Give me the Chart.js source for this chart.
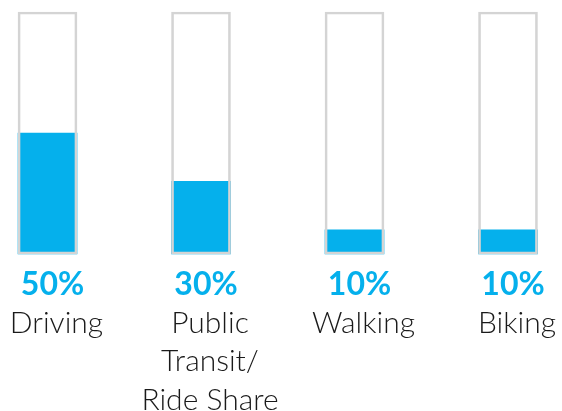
<!DOCTYPE html>
<html><head><meta charset="utf-8">
<script src="https://cdn.jsdelivr.net/npm/chart.js@4"></script>
<style>html,body{margin:0;padding:0;background:#fff}#wrap{width:562px;height:411px}</style>
</head><body><div id="wrap"><canvas id="c" width="562" height="411"></canvas></div>
<script>
const categories = [["Driving"], ["Public", "Transit/", "Ride Share"], ["Walking"], ["Biking"]];
const shares = [50, 30, 10, 10];
const full = [100, 100, 100, 100];
const percentLabels = shares.map(v => v + "%");

const BLUE = "#05b0ec";
const FONT = "Lato, 'Open Sans', sans-serif";
const noSidePadding = s => { s.paddingLeft = 0; s.paddingRight = 0; };

new Chart(document.getElementById("c"), {
  type: "bar",
  data: {
    labels: percentLabels,
    datasets: [
      { label: "share", data: shares, backgroundColor: BLUE, borderWidth: 0, barThickness: 59, order: 2, clip: false, xAxisID: "x" },
      { label: "frame", data: full, backgroundColor: "rgba(0,0,0,0)", borderColor: "#d4d4d4", borderWidth: 2, borderSkipped: false, barThickness: 59, order: 1, clip: false, xAxisID: "x" }
    ]
  },
  options: {
    responsive: false,
    animation: false,
    events: [],
    layout: { padding: { left: 47.5, right: 54, top: 12, bottom: 157 } },
    plugins: { legend: { display: false }, tooltip: { enabled: false } },
    scales: {
      y: { display: false, min: 0, max: 100 },
      x: {
        stacked: true, offset: false, position: { y: 0 }, afterFit: noSidePadding,
        grid: { display: false, drawTicks: false }, border: { display: false },
        ticks: { color: BLUE, autoSkip: false, maxRotation: 0, padding: 11, labelOffset: 5,
                 font: { family: FONT, size: 32, weight: "bold", lineHeight: 1.2 } }
      },
      x2: {
        type: "category", labels: categories, offset: false, position: { y: 0 }, afterFit: noSidePadding,
        grid: { display: false, drawTicks: false }, border: { display: false },
        ticks: { color: "#1a1a1a", autoSkip: false, maxRotation: 0, padding: 50, labelOffset: 9,
                 font: { family: FONT, size: 30, weight: 300, lineHeight: 1.28 } }
      }
    }
  }
});
</script></body></html>
